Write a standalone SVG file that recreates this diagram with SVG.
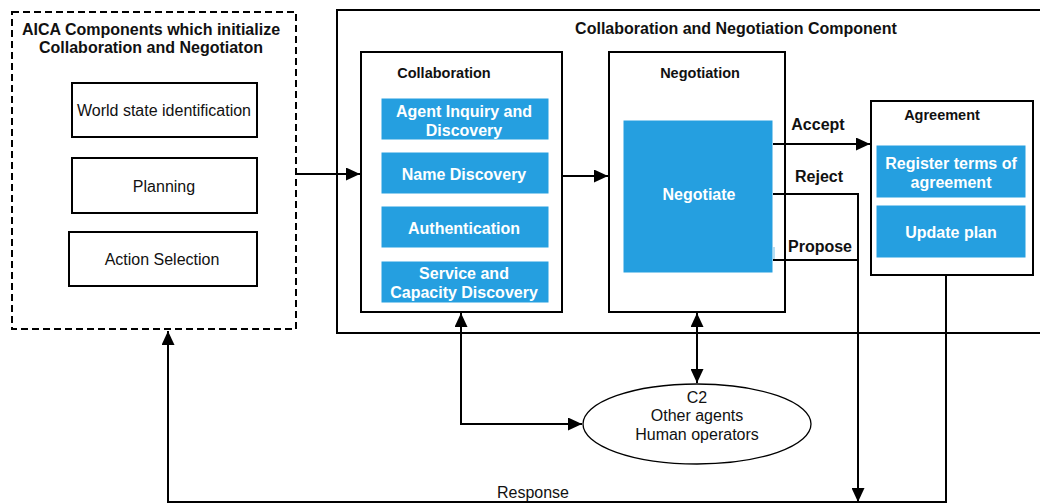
<svg xmlns="http://www.w3.org/2000/svg" width="1040" height="504" viewBox="0 0 1040 504">
<style>
.box{fill:#fff;stroke:#000;stroke-width:2}
.dash{fill:#fff;stroke:#000;stroke-width:2;stroke-dasharray:7 4}
.blue{fill:#259fe0;stroke:#fff;stroke-width:1}
.t{font-family:"Liberation Sans",Arial,sans-serif;font-size:16px;fill:#111;text-anchor:middle;dominant-baseline:central}
.b{font-weight:bold}
.s{font-size:14.5px}
.w{fill:#fff;font-weight:bold}
.ln{fill:none;stroke:#000;stroke-width:2}
</style>
<defs>
<marker id="ah" viewBox="0 0 14 13" refX="14" refY="6.5" markerWidth="14" markerHeight="13" markerUnits="userSpaceOnUse" orient="auto-start-reverse">
<path d="M0,0 L14,6.5 L0,13 Z" fill="#000"/>
</marker>
</defs>
<rect width="1040" height="504" fill="#fff"/>
<g id="aica">
<rect class="dash" x="12" y="12" width="284" height="317"/>
<text class="t b" x="151" y="29.5">AICA Components which initialize</text>
<text class="t b" x="151" y="47.5">Collaboration and Negotiaton</text>
</g>
<g id="world"><rect class="box" x="72" y="83" width="185" height="54"/><text class="t" x="164" y="110">World state identification</text></g>
<g id="planning"><rect class="box" x="72" y="158" width="185" height="55"/><text class="t" x="164" y="186">Planning</text></g>
<g id="action"><rect class="box" x="69" y="232" width="188" height="54"/><text class="t" x="162" y="259">Action Selection</text></g>
<g id="cnc">
<rect class="box" x="337" y="10" width="720" height="323"/>
<text class="t b" x="736" y="28">Collaboration and Negotiation Component</text>
</g>
<g id="collab">
<rect class="box" x="361" y="52" width="201" height="260"/>
<text class="t b s" x="444" y="73">Collaboration</text>
</g>
<g id="inquiry"><rect class="blue" x="381" y="98" width="168" height="42"/><text class="t w" x="464" y="111">Agent Inquiry and</text><text class="t w" x="464" y="130">Discovery</text></g>
<g id="name"><rect class="blue" x="381" y="152" width="168" height="42"/><text class="t w" x="464" y="174">Name Discovery</text></g>
<g id="auth"><rect class="blue" x="381" y="206" width="168" height="42"/><text class="t w" x="464" y="228">Authentication</text></g>
<g id="service"><rect class="blue" x="381" y="261" width="168" height="42"/><text class="t w" x="464" y="273">Service and</text><text class="t w" x="464" y="292">Capacity Discovery</text></g>
<g id="negotiation">
<rect class="box" x="609" y="52" width="176" height="260"/>
<text class="t b s" x="700" y="73">Negotiation</text>
</g>
<g id="negotiate"><rect class="blue" x="623" y="120" width="150" height="153"/><path d="M774,247 L774,259" stroke="#9fd3ef" stroke-width="1.5"/><text class="t w" x="699" y="194">Negotiate</text></g>
<g id="agreement">
<rect class="box" x="871" y="101" width="162" height="174"/>
<text class="t b s" x="942" y="115">Agreement</text>
</g>
<g id="register"><rect class="blue" x="876" y="145" width="150" height="53"/><text class="t w" x="951" y="163">Register terms of</text><text class="t w" x="951" y="182">agreement</text></g>
<g id="update"><rect class="blue" x="876" y="205" width="150" height="53"/><text class="t w" x="951" y="232">Update plan</text></g>
<g id="c2">
<ellipse cx="697" cy="424" rx="114" ry="40" fill="#fff" stroke="#000" stroke-width="1.3"/>
<text class="t" x="697" y="397">C2</text>
<text class="t" x="697" y="415">Other agents</text>
<text class="t" x="697" y="434">Human operators</text>
</g>
<g id="connectors">
<path class="ln" d="M296,174 L360,174" marker-end="url(#ah)"/>
<path class="ln" d="M562,176 L608,176" marker-end="url(#ah)"/>
<path class="ln" d="M773,144 L870,144" marker-end="url(#ah)"/>
<path class="ln" d="M773,194 L858,194 L858,502" marker-end="url(#ah)"/>
<path class="ln" d="M773,260 L858,260"/>
<path class="ln" d="M946,275 L946,502 L168,502 L168,331" marker-end="url(#ah)"/>
<path class="ln" d="M461,313 L461,424 L582,424" marker-start="url(#ah)" marker-end="url(#ah)"/>
<path class="ln" d="M697,313 L697,383" marker-start="url(#ah)" marker-end="url(#ah)"/>
<text class="t b" x="818" y="124">Accept</text>
<text class="t b" x="819" y="176">Reject</text>
<text class="t b" x="820" y="246">Propose</text>
<text class="t" x="533" y="492">Response</text>
</g>
</svg>
